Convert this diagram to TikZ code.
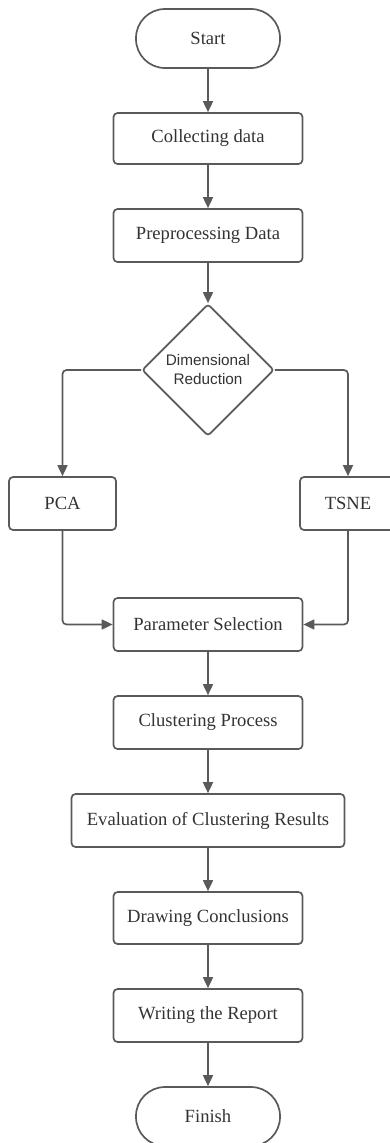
\documentclass[tikz,border=0pt]{standalone}
\usepackage{fontspec}
\setmainfont{Liberation Serif}
\newfontfamily\diafont{Liberation Sans}
\usetikzlibrary{shapes.geometric,arrows.meta}
\definecolor{linegray}{HTML}{5A5A5A}
\definecolor{textgray}{HTML}{333333}
\begin{document}
\begin{tikzpicture}[x=1pt,y=-1pt,
  every node/.style={text=textgray, font=\fontsize{18.6}{21}\selectfont},
  procbox/.style={draw=linegray, line width=1.7pt, rounded corners=4pt,
    minimum width=189pt, minimum height=53pt, inner sep=0pt},
  terminal/.style={draw=linegray, line width=1.7pt, rounded corners=29pt,
    minimum width=144pt, minimum height=59pt, inner sep=0pt},
  decision/.style={diamond, draw=linegray, line width=1.7pt, rounded corners=3pt,
    minimum width=132pt, minimum height=132pt, inner sep=0pt, align=center,
    font=\diafont\fontsize{15.3}{19}\selectfont},
  flow/.style={draw=linegray, line width=1.7pt, rounded corners=4pt,
    -{Triangle[length=11pt,width=10pt]}}
]
\useasboundingbox (0,0) rectangle (390,1143);
\clip (0,0) rectangle (390,1143);

% main column
\node[terminal] (start) at (208,38.5) {Start};
\node[procbox, minimum height=51pt] (collect) at (208,138.5) {Collecting data};
\node[procbox] (prep) at (208,235.5) {Preprocessing Data};
\node[decision] (dimred) at (208,370) {Dimensional\\Reduction};

% two branches
\node[procbox, minimum width=107pt] (pca) at (62.5,503.5) {PCA};
\node[procbox, minimum width=96pt] (tsne) at (348,503.5) {TSNE};

\node[procbox] (param) at (208,624.5) {Parameter Selection};
\node[procbox] (cluster) at (208,722.5) {Clustering Process};
\node[procbox, minimum width=273pt] (eval) at (208,820.5) {Evaluation of Clustering Results};
\node[procbox, minimum height=52pt] (concl) at (208,918) {Drawing Conclusions};
\node[procbox] (report) at (208,1015.5) {Writing the Report};
\node[terminal] (finish) at (208,1116.5) {Finish};

% connectors
\draw[flow] (start) -- (collect);
\draw[flow] (collect) -- (prep);
\draw[flow] (prep.south) -- (dimred.north);
\draw[flow] (dimred.west) -| (pca.north);
\draw[flow] (dimred.east) -| (tsne.north);
\draw[flow] (pca.south) |- (param.west);
\draw[flow] (tsne.south) |- (param.east);
\draw[flow] (param) -- (cluster);
\draw[flow] (cluster) -- (eval);
\draw[flow] (eval) -- (concl);
\draw[flow] (concl) -- (report);
\draw[flow] (report) -- (finish);
\end{tikzpicture}
\end{document}
